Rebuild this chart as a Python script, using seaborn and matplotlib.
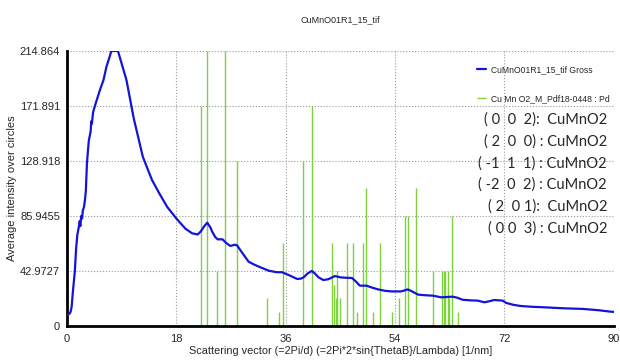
import numpy as np
import pandas as pd
import matplotlib
matplotlib.use("Agg")
import matplotlib.pyplot as plt
import seaborn as sns

# averaged radial profile (blue curve)
q_profile = [0, 0.4, 0.6, 0.77, 1.0, 1.3, 1.5, 1.7, 1.9, 2.1, 2.2, 2.35, 2.5, 2.6, 2.8, 2.95,
             3.1, 3.3, 3.6, 3.9, 4.0, 4.1, 4.3, 4.6, 5.0, 5.4, 6.0, 6.5, 7.0, 7.3, 8.4, 9.0,
             9.8, 11.0, 12.5, 14.0, 15.2, 16.5, 18.0, 19.5, 20.6, 21.5, 22.0, 22.6, 23.1, 23.6,
             23.9, 24.4, 24.8, 25.6, 26.3, 26.9, 27.6, 28.0, 28.5, 28.9, 29.9, 30.8, 31.6, 33.2,
             34.5, 35.4, 36.5, 37.9, 38.5, 38.95, 39.6, 40.3, 40.8, 41.4, 42.2, 43.0, 44.1, 45.0,
             45.8, 46.9, 47.5, 48.2, 49.3, 50.2, 51.2, 52.3, 53.4, 55.0, 56.1, 56.8, 57.8, 59.0,
             60.2, 61.6, 63.5, 64.3, 65.1, 66.5, 67.6, 68.7, 69.5, 70.3, 71.2, 71.7, 72.3, 73.5,
             74.7, 76.5, 78.5, 81.8, 85.0, 87.5, 89.4, 90.0]
intensity = [8.5, 9.5, 11, 15, 28, 43, 60, 71, 76, 82, 78, 86, 84, 90, 93, 98,
             105, 128, 145, 152, 160, 158, 167, 172, 178, 184, 192, 202.6, 210, 214.864, 214.864, 205,
             192, 162, 132, 114, 103.6, 93, 84, 76, 72.4, 71.5, 73.7, 78, 80.7, 77,
             73.7, 69.5, 67.7, 67.7, 64.5, 62.5, 63.5, 63, 59.5, 56.8, 50.2, 48, 46.3, 43.2,
             42, 42, 39.8, 36.7, 37, 38, 41, 43, 41, 38, 35.9, 36.5, 39, 38,
             37.7, 37.5, 35, 31.5, 31.5, 30, 28.6, 27.5, 27, 27, 28.6, 27, 24.5, 24,
             23.7, 22.4, 22.9, 22, 20.5, 20, 19.8, 18.5, 19.3, 20.3, 20, 19.8, 18, 16.5,
             15.6, 15, 14.6, 13.8, 13.3, 12.3, 11.2, 11]

# reference pattern Cu Mn O2 (PDF 18-0448), relative intensity in %
q_ref = [22.0, 23.1, 24.65, 26.0, 28.0, 33.0, 34.9, 35.6, 38.85, 40.25, 43.6, 43.9, 44.2,
         44.45, 44.9, 46.1, 47.0, 47.8, 48.75, 49.15, 50.3, 51.6, 53.45, 54.6, 55.6, 56.1,
         57.4, 60.3, 61.7, 62.0, 62.3, 62.65, 62.9, 63.35, 64.3]
rel_int = [80, 100, 20, 100, 60, 10, 5, 30, 60, 80, 30, 15, 10,
           20, 10, 30, 30, 5, 30, 50, 5, 30, 5, 10, 40, 40,
           50, 20, 20, 20, 20, 20, 10, 40, 5]

hkl_labels = ["( 0  0  2):  CuMnO2", "( 2  0  0) : CuMnO2", "( -1  1  1) : CuMnO2",
              "( -2  0  2) : CuMnO2", "( 2  0 1):  CuMnO2", "( 0 0  3) : CuMnO2"]

y_max = 214.864
y_ticks = [0, 42.9727, 85.9455, 128.918, 171.891, 214.864]
y_tick_labels = ["0", "42.9727", "85.9455", "128.918", "171.891", "214.864"]
x_ticks = [0, 18, 36, 54, 72, 90]

sns.set_style("white")
plt.rcParams['font.family'] = ['Liberation Sans', 'DejaVu Sans']

df = pd.DataFrame({'q': q_profile, 'I': intensity})

fig = plt.figure(figsize=(6.2, 3.63), dpi=100)
ax = fig.add_axes([0.108, 0.102, 0.882, 0.7575])

heights = [r / 100 * y_max for r in rel_int]
ax.vlines(q_ref, 0, heights, color='#7ed23c', linewidth=1.0,
          label='Cu Mn O2_M_Pdf18-0448 : Pd', zorder=2)
sns.lineplot(data=df, x='q', y='I', ax=ax, color='#1414d8', linewidth=1.6,
             label='CuMnO01R1_15_tif Gross', zorder=3)

ax.set_xlim(0, 90)
ax.set_ylim(0, y_max)
ax.set_xticks(x_ticks)
ax.set_yticks(y_ticks)
ax.set_yticklabels(y_tick_labels)
ax.grid(True, linestyle=':', color='#9a9a9a', linewidth=0.8)
ax.tick_params(labelsize=8, length=3, width=1, direction='out', pad=2, color='black')
ax.tick_params(axis='x', pad=3)

for side in ['top', 'right']:
    ax.spines[side].set_visible(False)
for side in ['left', 'bottom']:
    ax.spines[side].set_color('black')
    ax.spines[side].set_linewidth(2)

ax.set_xlabel('Scattering vector (=2Pi/d) (=2Pi*2*sin{ThetaB}/Lambda) [1/nm]', fontsize=7.8, labelpad=1)
ax.set_ylabel('Average intensity over circles', fontsize=8, labelpad=2)
ax.set_title('CuMnO01R1_15_tif', fontsize=6.5, pad=20.5)

handles, labels = ax.get_legend_handles_labels()
order = [labels.index('CuMnO01R1_15_tif Gross'), labels.index('Cu Mn O2_M_Pdf18-0448 : Pd')]
ax.legend([handles[i] for i in order], [labels[i] for i in order],
          loc='upper left', bbox_to_anchor=(0.75, 0.95), frameon=False, fontsize=6.2,
          borderpad=0, borderaxespad=0, handlelength=1.0, handletextpad=0.6,
          labelspacing=2.4)

for i, txt in enumerate(hkl_labels):
    y_px = 119.5 + i * 21.8
    fig.text(607 / 620, 1 - y_px / 363, txt, fontsize=10.5, family=['Lato', 'DejaVu Sans'],
             va='center', ha='right')

fig.savefig('out.png', dpi=100)
